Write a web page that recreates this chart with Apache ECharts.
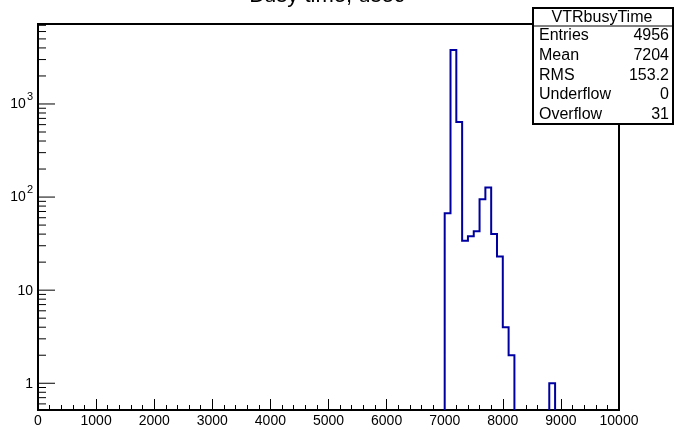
<!DOCTYPE html>
<html>
<head>
<meta charset="utf-8">
<script src="https://cdn.jsdelivr.net/npm/echarts@6/dist/echarts.min.js"></script>
<style>
html,body{margin:0;padding:0;background:#fff;}
#chart{width:674px;height:430px;}
</style>
</head>
<body>
<div id="chart"></div>
<script>
// ---- data ----
const binWidth = 100;
const binLows = [7000, 7100, 7200, 7300, 7400, 7500, 7600, 7700, 7800, 7900, 8000, 8100, 8800];
const counts  = [67,   3800, 641,  34,   38,   43,   95,   127,  40,   23,   4,    2,    1];
const xMin = 0, xMax = 10000, xInterval = 1000;
const yMin = 0.516, yMax = 7230;
const statsTitle = 'VTRbusyTime';
const statsLabels = ['Entries', 'Mean', 'RMS', 'Underflow', 'Overflow'];
const statsValues = ['4956', '7204', '153.2', '0', '31'];
const titleText = 'Busy time, usec';

// y tick values (log decades with 2..9 subdivisions)
const yTickValues = [];
for (let e = -1; e <= 3; e++) {
  for (let m = 1; m <= 9; m++) {
    const v = m * Math.pow(10, e);
    if (v >= yMin && v <= yMax) yTickValues.push(v);
  }
}
function isDecade(v) {
  const l = Math.log10(v);
  return Math.abs(l - Math.round(l)) < 1e-6;
}

const FONT = 'Liberation Sans, Arial, Helvetica, sans-serif';
const chart = echarts.init(document.getElementById('chart'), null, {renderer: 'canvas'});

const option = {
  animation: false,
  backgroundColor: '#fff',
  grid: {left: 38, right: 55, top: 24, bottom: 20, show: true, borderColor: '#000', borderWidth: 2, backgroundColor: 'transparent'},
  xAxis: {
    type: 'value', min: xMin, max: xMax, interval: xInterval,
    axisLine: {show: true, onZero: false, lineStyle: {color: '#000', width: 2}},
    axisTick: {show: true, inside: true, length: 11, lineStyle: {color: '#000', width: 1}},
    minorTick: {show: true, splitNumber: 5, length: 5, lineStyle: {color: '#000', width: 1}},
    axisLabel: {color: '#000', fontSize: 14, fontFamily: FONT, margin: 4, showMinLabel: true, showMaxLabel: true,
      formatter: function (v) { return String(v); }},
    splitLine: {show: false}
  },
  yAxis: {
    type: 'log', logBase: 10, min: yMin, max: yMax,
    axisLine: {show: true, lineStyle: {color: '#000', width: 2}},
    axisTick: {show: false},
    splitLine: {show: false},
    axisLabel: {
      color: '#000', fontFamily: FONT, margin: 5, showMinLabel: true, showMaxLabel: true,
      formatter: function (v) {
        if (!isDecade(v)) return '';
        const e = Math.round(Math.log10(v));
        if (e === 0) return '{b|1}';
        if (e === 1) return '{b|10}';
        return '{b|10}{s|' + e + '}';
      },
      rich: {
        b: {fontSize: 14, fontFamily: FONT, color: '#000', verticalAlign: 'bottom', lineHeight: 15},
        s: {fontSize: 11, fontFamily: FONT, color: '#000', verticalAlign: 'bottom', lineHeight: 15, padding: [0, 0, 9, 1]}
      }
    }
  },
  series: [
    {
      type: 'custom',
      name: 'yticks',
      coordinateSystem: 'cartesian2d',
      data: yTickValues.map(v => [xMin, v]),
      clip: false,
      silent: true,
      renderItem: function (params, api) {
        const v = api.value(1);
        const p = api.coord([xMin, v]);
        const len = isDecade(v) ? 17 : 8;
        return {type: 'line', shape: {x1: p[0], y1: p[1], x2: p[0] + len, y2: p[1]}, style: {stroke: '#000', lineWidth: 1}};
      }
    },
    {
      type: 'custom',
      name: 'hist',
      coordinateSystem: 'cartesian2d',
      data: [[xMin, yMax]],
      clip: true,
      silent: true,
      z: 5,
      renderItem: function (params, api) {
        const bottom = params.coordSys.y + params.coordSys.height;
        const children = [];
        let pts = null;
        for (let i = 0; i < binLows.length; i++) {
          const lo = binLows[i], hi = lo + binWidth;
          const top = api.coord([lo, counts[i]])[1];
          const x0 = api.coord([lo, counts[i]])[0];
          const x1 = api.coord([hi, counts[i]])[0];
          const contiguous = i > 0 && binLows[i - 1] + binWidth === lo;
          if (!contiguous) {
            if (pts) { pts.push([pts[pts.length - 1][0], bottom]); children.push(pts); }
            pts = [[x0, bottom]];
          }
          pts.push([x0, top]);
          pts.push([x1, top]);
        }
        if (pts) { pts.push([pts[pts.length - 1][0], bottom]); children.push(pts); }
        return {
          type: 'group',
          children: children.map(p => ({type: 'polyline', shape: {points: p}, style: {stroke: '#0000a0', lineWidth: 2, fill: null}}))
        };
      }
    }
  ],
  graphic: [
    {
      type: 'text', x: 327, y: 7, z: 10,
      style: {text: titleText, font: '22px ' + FONT, fill: '#000', align: 'center', verticalAlign: 'bottom'}
    },
    {
      type: 'group', x: 533, y: 8, z: 20,
      children: [
        {type: 'rect', shape: {x: 0, y: 0, width: 140, height: 116}, style: {fill: '#fff', stroke: '#000', lineWidth: 2}},
        {type: 'line', shape: {x1: 0, y1: 18, x2: 140, y2: 18}, style: {stroke: '#000', lineWidth: 1}},
        {type: 'text', x: 69, y: 9.5, style: {text: statsTitle, font: '16px ' + FONT, fill: '#000', align: 'center', verticalAlign: 'middle'}}
      ].concat(statsLabels.map((t, i) => ({
        type: 'text', x: 6, y: 28 + i * 19.6,
        style: {text: t, font: '16px ' + FONT, fill: '#000', align: 'left', verticalAlign: 'middle'}
      }))).concat(statsValues.map((t, i) => ({
        type: 'text', x: 136, y: 28 + i * 19.6,
        style: {text: t, font: '16px ' + FONT, fill: '#000', align: 'right', verticalAlign: 'middle'}
      })))
    }
  ]
};
chart.setOption(option);
</script>
</body>
</html>
